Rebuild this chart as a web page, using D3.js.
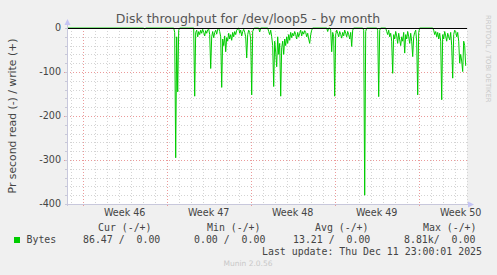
<!DOCTYPE html>
<html>
<head>
<meta charset="utf-8">
<script src="https://cdn.jsdelivr.net/npm/d3@7"></script>
<style>
  html, body { margin: 0; padding: 0; background: #f0f0f0; }
  svg { display: block; }
  text { white-space: pre; }
</style>
</head>
<body>
<div id="chart"></div>
<script>
// time window of the month graph and the 2-hourly samples
const rangeStart = '2025-11-08T16:36:00Z';
const rangeEnd = '2025-12-12T00:36:00Z';
const firstSample = '2025-11-08T18:00:00Z';
const lastSample = '2025-12-11T22:00:00Z';
const stepHours = 2;

// read bytes (negative side); everything outside these bursts sits at 0
const burstStarts = [
  '2025-11-15T04:00:00Z', '2025-11-17T16:00:00Z', '2025-11-19T08:00:00Z',
  '2025-11-24T18:00:00Z', '2025-11-25T12:00:00Z', '2025-11-30T10:00:00Z',
  '2025-11-30T16:00:00Z', '2025-12-03T10:00:00Z', '2025-12-04T14:00:00Z',
  '2025-12-05T08:00:00Z', '2025-12-09T06:00:00Z'
];
const burstValues = [
  [-3],
  [-10, -295, -20, -145, -5],
  [-155, -10, -5, -20, -8, -15, -5, -12, -3, -10, -18, -6, -12, -4, -2, -15, -92, -20, -8, -22,
   -10, -5, -14, -3, 0, -8, -20, -135, -25, -40, -18, -54, -22, -30, -12, -25, -15, -28, -10, -20,
   -8, -15, -5, -2, 0, -12, -5, -18, -8, -3, -10, -20, -68, -15, -5, -10, -25, -152, -8, -2],
  [-9],
  [-8, -15, -5, -20, -40, -133, -30, -55, -88, -20, -60, -35, -155, -45, -30, -60, -25, -40, -20, -35,
   -15, -28, -10, -22, -12, -18, -8, -15, -25, -10, -20, -12, -5, -18, -8, -14, -6, -10, -20, -12,
   -25, -35, -15, -5],
  [-8],
  [-5, -54, -10, -20, -155, -15, -5, -12, -20, -8, -15, -23, -10, -18, -5, -12, -20, -8, -15, -25,
   -10, -42, -5],
  [-5, -380, -8],
  [-5, -156, -5],
  [-8, -15, -5, -20, -12, -30, -103, -15, -25, -8, -18, -35, -12, -27, -40, -20, -30, -10, -57, -15,
   -25, -8, -20, -35, -12, -30, -65, -20, -10, -5, -30, -152, -10],
  [-5, -15, -8, -20, -10, -25, -12, -30, -163, -15, -25, -8, -18, -30, -12, -20, -27, -10, -40, -114,
   -15, -5, -8, -20, -10, -30, -80, -60, -75, -99, -30, -40, -86]
];

const yTicks = [0, -100, -200, -300, -400];
const legendHeaders = ['Cur (-/+)', 'Min (-/+)', 'Avg (-/+)', 'Max (-/+)'];
const legendValues = ['86.47 /  0.00', '0.00 /  0.00', '13.21 /  0.00', '8.81k/  0.00'];
const seriesName = 'Bytes';
const lastUpdate = 'Last update: Thu Dec 11 23:00:01 2025';

const W = 497, H = 275;
const plot = { left: 67, right: 467, top: 28, bottom: 204 };
const green = '#00cc00';

// build the full sample list
const stepMs = stepHours * 3600 * 1000;
const t0 = new Date(firstSample).getTime();
const t1 = new Date(lastSample).getTime();
const series = [];
for (let t = t0; t <= t1; t += stepMs) {
  series.push({ t: new Date(t), v: 0 });
}
burstStarts.forEach((s, i) => {
  const k0 = Math.round((new Date(s).getTime() - t0) / stepMs);
  burstValues[i].forEach((v, j) => {
    if (series[k0 + j]) { series[k0 + j].v = v; }
  });
});

const svg = d3.select('#chart').append('svg')
  .attr('width', W)
  .attr('height', H)
  .style('font-family', '"DejaVu Sans", sans-serif');

svg.append('rect').attr('width', W).attr('height', H).attr('fill', '#f0f0f0');

const x = d3.scaleUtc()
  .domain([new Date(rangeStart), new Date(rangeEnd)])
  .range([plot.left, plot.right]);

const y = d3.scaleLinear()
  .domain([-400, 0])
  .range([plot.bottom, plot.top]);

svg.append('rect')
  .attr('x', plot.left).attr('y', plot.top)
  .attr('width', plot.right - plot.left).attr('height', plot.bottom - plot.top)
  .attr('fill', '#ffffff');

const grid = svg.append('g').attr('shape-rendering', 'crispEdges');

// minor grid
const days = d3.utcDay.range(x.domain()[0], x.domain()[1]);
grid.selectAll('.vmin')
  .data(days)
  .enter()
  .append('line')
  .attr('x1', (d) => Math.round(x(d)) + 0.5)
  .attr('x2', (d) => Math.round(x(d)) + 0.5)
  .attr('y1', plot.top)
  .attr('y2', plot.bottom)
  .attr('stroke', '#d4d4d4')
  .attr('stroke-dasharray', '1,2');

grid.selectAll('.hmin')
  .data(d3.range(-400, 1, 20))
  .enter()
  .append('line')
  .attr('x1', plot.left)
  .attr('x2', plot.right)
  .attr('y1', (d) => Math.round(y(d)) + 0.5)
  .attr('y2', (d) => Math.round(y(d)) + 0.5)
  .attr('stroke', '#d4d4d4')
  .attr('stroke-dasharray', '1,2');

// major grid
const weeks = d3.utcMonday.range(x.domain()[0], x.domain()[1]);
grid.selectAll('.vmaj')
  .data(weeks)
  .enter()
  .append('line')
  .attr('x1', (d) => Math.round(x(d)) + 0.5)
  .attr('x2', (d) => Math.round(x(d)) + 0.5)
  .attr('y1', plot.top)
  .attr('y2', plot.bottom + 3)
  .attr('stroke', '#eb9a9a')
  .attr('stroke-dasharray', '1,2');

grid.selectAll('.hmaj')
  .data(yTicks.filter((d) => d !== 0 && d !== -400))
  .enter()
  .append('line')
  .attr('x1', plot.left - 3)
  .attr('x2', plot.right)
  .attr('y1', (d) => Math.round(y(d)) + 0.5)
  .attr('y2', (d) => Math.round(y(d)) + 0.5)
  .attr('stroke', '#eb9a9a')
  .attr('stroke-dasharray', '1,2');

// small ticks at minor lines
grid.selectAll('.ytick')
  .data(d3.range(-380, 1, 20))
  .enter()
  .append('line')
  .attr('x1', plot.left - 2)
  .attr('x2', plot.left)
  .attr('y1', (d) => Math.round(y(d)) + 0.5)
  .attr('y2', (d) => Math.round(y(d)) + 0.5)
  .attr('stroke', '#c8c8d8');

// data line
const line = d3.line()
  .x((d) => x(d.t))
  .y((d) => y(d.v));

svg.append('path')
  .datum(series)
  .attr('d', line)
  .attr('fill', 'none')
  .attr('stroke', green)
  .attr('stroke-width', 1);

// zero rule
svg.append('line')
  .attr('x1', plot.left)
  .attr('x2', plot.right)
  .attr('y1', Math.round(y(0)) + 0.5)
  .attr('y2', Math.round(y(0)) + 0.5)
  .attr('stroke', '#000')
  .attr('shape-rendering', 'crispEdges');

// axes
const axisColor = '#c8c8dc';
svg.append('line')
  .attr('x1', plot.left + 0.5).attr('x2', plot.left + 0.5)
  .attr('y1', plot.bottom + 2).attr('y2', plot.top - 6)
  .attr('stroke', axisColor)
  .attr('shape-rendering', 'crispEdges');
svg.append('line')
  .attr('x1', plot.left - 2).attr('x2', plot.right + 4)
  .attr('y1', plot.bottom + 0.5).attr('y2', plot.bottom + 0.5)
  .attr('stroke', axisColor)
  .attr('shape-rendering', 'crispEdges');
svg.append('path')
  .attr('d', `M${plot.left - 2.5},${plot.top - 3} L${plot.left + 0.5},${plot.top - 9} L${plot.left + 3.5},${plot.top - 3} Z`)
  .attr('fill', '#c4c4f4');
svg.append('path')
  .attr('d', `M${plot.right + 1},${plot.bottom - 2.5} L${plot.right + 7},${plot.bottom + 0.5} L${plot.right + 1},${plot.bottom + 3.5} Z`)
  .attr('fill', '#c4c4f4');

// y tick labels
svg.selectAll('.ylab')
  .data(yTicks)
  .enter()
  .append('text')
  .attr('x', 61)
  .attr('y', (d) => y(d))
  .attr('dy', '0.36em')
  .attr('text-anchor', 'end')
  .attr('font-size', 9.6)
  .attr('fill', '#444')
  .text((d) => d);

// week labels
svg.selectAll('.wlab')
  .data(weeks)
  .enter()
  .append('text')
  .attr('x', (d) => x(d3.utcHour.offset(d, 84)))
  .attr('y', 215.5)
  .attr('text-anchor', 'middle')
  .attr('font-size', 9.6)
  .attr('fill', '#444')
  .text((d) => 'Week ' + d3.utcFormat('%V')(d));

// title
svg.append('text')
  .attr('x', 248)
  .attr('y', 23)
  .attr('text-anchor', 'middle')
  .attr('font-size', 12.5)
  .attr('fill', '#555')
  .text('Disk throughput for /dev/loop5 - by month');

// y axis title
svg.append('text')
  .attr('transform', `translate(16,${(plot.top + plot.bottom) / 2}) rotate(-90)`)
  .attr('text-anchor', 'middle')
  .attr('font-size', 10.8)
  .attr('fill', '#444')
  .text('Pr second read (-) / write (+)');

// rrdtool watermark
svg.append('text')
  .attr('transform', 'translate(486,15) rotate(90)')
  .attr('text-anchor', 'start')
  .attr('font-size', 6.8)
  .attr('fill', '#c8c8c8')
  .text('RRDTOOL / TOBI OETIKER');

// legend
const mono = '"DejaVu Sans Mono", monospace';
const headerX = [98, 207, 315, 423];
const valueX = [83, 194, 293, 404];
svg.selectAll('.lhead')
  .data(legendHeaders)
  .enter()
  .append('text')
  .attr('x', (d, i) => headerX[i])
  .attr('y', 231)
  .attr('font-family', mono)
  .attr('font-size', 9.9)
  .attr('fill', '#444')
  .text((d) => d);

svg.append('rect')
  .attr('x', 14).attr('y', 237)
  .attr('width', 6).attr('height', 6)
  .attr('fill', green);

svg.append('text')
  .attr('x', 26.5)
  .attr('y', 243)
  .attr('font-family', mono)
  .attr('font-size', 9.9)
  .attr('fill', '#444')
  .text(seriesName);

svg.selectAll('.lval')
  .data(legendValues)
  .enter()
  .append('text')
  .attr('x', (d, i) => valueX[i])
  .attr('y', 243)
  .attr('font-family', mono)
  .attr('font-size', 9.9)
  .attr('fill', '#444')
  .text((d) => d);

svg.append('text')
  .attr('x', 482)
  .attr('y', 255)
  .attr('text-anchor', 'end')
  .attr('font-family', mono)
  .attr('font-size', 9.9)
  .attr('fill', '#444')
  .text(lastUpdate);

svg.append('text')
  .attr('x', 248)
  .attr('y', 266)
  .attr('text-anchor', 'middle')
  .attr('font-size', 7.5)
  .attr('fill', '#c8c8c8')
  .text('Munin 2.0.56');
</script>
</body>
</html>
